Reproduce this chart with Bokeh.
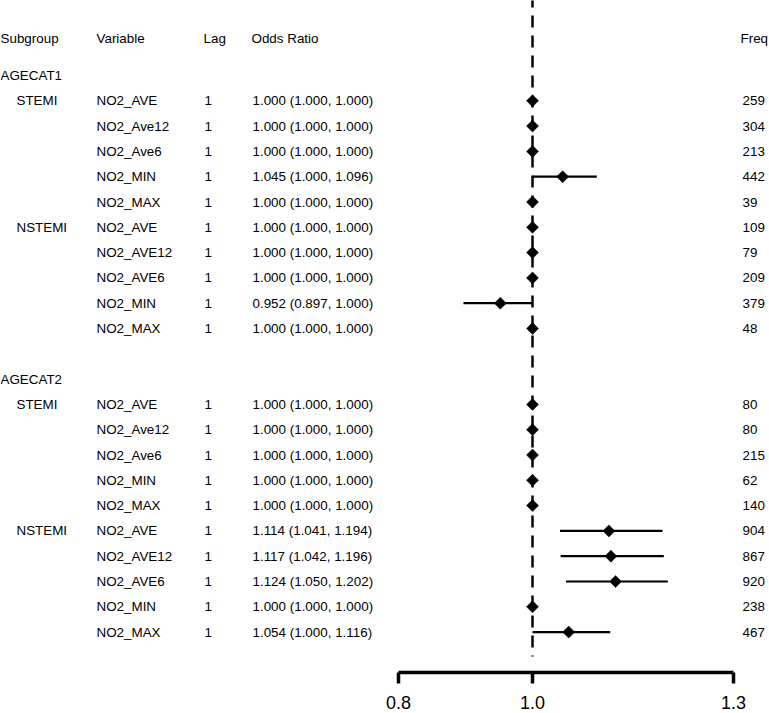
import math
from bokeh.plotting import figure
from bokeh.models import Range1d, LinearAxis, FixedTicker, ColumnDataSource
from bokeh.embed import file_html
from bokeh.resources import INLINE
from bokeh.core.properties import value

# ---------------- data ----------------
age_groups = ["AGECAT1", "AGECAT2"]
subgroups = ["STEMI", "STEMI", "STEMI", "STEMI", "STEMI",
             "NSTEMI", "NSTEMI", "NSTEMI", "NSTEMI", "NSTEMI"]
variables_1 = ["NO2_AVE", "NO2_Ave12", "NO2_Ave6", "NO2_MIN", "NO2_MAX",
               "NO2_AVE", "NO2_AVE12", "NO2_AVE6", "NO2_MIN", "NO2_MAX"]
variables_2 = ["NO2_AVE", "NO2_Ave12", "NO2_Ave6", "NO2_MIN", "NO2_MAX",
               "NO2_AVE", "NO2_AVE12", "NO2_AVE6", "NO2_MIN", "NO2_MAX"]
lag = [1] * 20
odds_ratio = [1.000, 1.000, 1.000, 1.045, 1.000, 1.000, 1.000, 1.000, 0.952, 1.000,
              1.000, 1.000, 1.000, 1.000, 1.000, 1.114, 1.117, 1.124, 1.000, 1.054]
ci_low = [1.000, 1.000, 1.000, 1.000, 1.000, 1.000, 1.000, 1.000, 0.897, 1.000,
          1.000, 1.000, 1.000, 1.000, 1.000, 1.041, 1.042, 1.050, 1.000, 1.000]
ci_high = [1.000, 1.000, 1.000, 1.096, 1.000, 1.000, 1.000, 1.000, 1.000, 1.000,
           1.000, 1.000, 1.000, 1.000, 1.000, 1.194, 1.196, 1.202, 1.000, 1.116]
freq = [259, 304, 213, 442, 39, 109, 79, 209, 379, 48,
        80, 80, 215, 62, 140, 904, 867, 920, 238, 467]
headers = ["Subgroup", "Variable", "Lag", "Odds Ratio", "Freq"]
tick_values = [0.8, 1.0, 1.3]
tick_labels = ["0.8", "1.0", "1.3"]

# ---------------- layout helpers (reference pixel grid) ----------------
REF_W, REF_H = 769, 713
X0_PX, PX_PER_UNIT = 532.0, 670.0      # x = 1.0 at px 532, 670 px per unit
ROW0_PX, ROW_PX = 75.0, 25.3           # row 0 (AGECAT1) at px 75
AXIS_PX = 672.0


def px2x(px):
    return 1.0 + (px - X0_PX) / PX_PER_UNIT


def px2row(py):
    return (py - ROW0_PX) / ROW_PX


W, H = 769, 713
frame_h = int(round(AXIS_PX))

p = figure(width=W, height=H, output_backend="svg", toolbar_location=None,
           x_axis_type=None, y_axis_type=None,
           x_range=Range1d(px2x(0), px2x(REF_W)),
           y_range=Range1d(px2row(AXIS_PX), px2row(0)),
           min_border_left=0, min_border_right=0, min_border_top=0,
           min_border_bottom=H - frame_h)
p.outline_line_color = None
p.xgrid.visible = False
p.ygrid.visible = False
p.background_fill_color = "white"
p.border_fill_color = "white"

# rows
rows = []
variables = variables_1 + variables_2
for g, ag in enumerate(age_groups):
    base = g * 12
    for k in range(10):
        rows.append(base + 1 + k)

# text columns
FONT_NAME = "Liberation Sans"
font = value(FONT_NAME)
fs = "13.4px"
FREQ_PX = 740


def add_text(xs, ys, texts):
    src = ColumnDataSource(dict(x=xs, y=ys, t=texts))
    p.text(x="x", y="y", text="t", source=src, text_font=font,
           text_font_size=fs, text_baseline="middle", text_align="left",
           text_color="black")


# header
header_x_px = [0, 96, 203, 251, FREQ_PX]
add_text([px2x(v) for v in header_x_px], [px2row(38)] * len(headers), headers)

# age group labels
add_text([px2x(0)] * 2, [g * 12 for g in range(len(age_groups))], age_groups)

# subgroup labels (first row of each subgroup)
sub_x, sub_y, sub_t = [], [], []
for i, r in enumerate(rows):
    s = subgroups[i % 10]
    prev = subgroups[(i % 10) - 1] if i % 10 else None
    if s != prev:
        sub_x.append(px2x(16)); sub_y.append(r); sub_t.append(s)
add_text(sub_x, sub_y, sub_t)

add_text([px2x(96)] * 20, rows, variables)
add_text([px2x(204)] * 20, rows, [str(v) for v in lag])
add_text([px2x(252)] * 20, rows,
         ["%.3f (%.3f, %.3f)" % (e, l, h) for e, l, h in zip(odds_ratio, ci_low, ci_high)])
add_text([px2x(FREQ_PX + 2)] * 20, rows, [str(v) for v in freq])

# reference line at 1.0
p.segment(x0=[1.0], y0=[px2row(-5)], x1=[1.0], y1=[px2row(656)],
          line_color="black", line_width=2.5, line_dash="12 8")

# confidence intervals
p.segment(x0=ci_low, y0=rows, x1=ci_high, y1=rows, line_color="black", line_width=2.2)

# point estimates
p.scatter(x=odds_ratio, y=rows, marker="square", angle=math.pi / 4, size=8.5,
          fill_color="black", line_color="black", line_width=0.5)

# axis
ax = LinearAxis(bounds=(0.8, 1.3), ticker=FixedTicker(ticks=tick_values),
                major_label_overrides={v: l for v, l in zip(tick_values, tick_labels)},
                axis_line_width=3.5, axis_line_color="black",
                major_tick_line_width=3.5, major_tick_line_color="black",
                major_tick_in=0, major_tick_out=11,
                minor_tick_line_color=None,
                major_label_standoff=12,
                major_label_text_font=FONT_NAME,
                major_label_text_font_size="18px",
                major_label_text_color="black")
p.add_layout(ax, "below")

open("out.html", "w").write(file_html(p, INLINE))
